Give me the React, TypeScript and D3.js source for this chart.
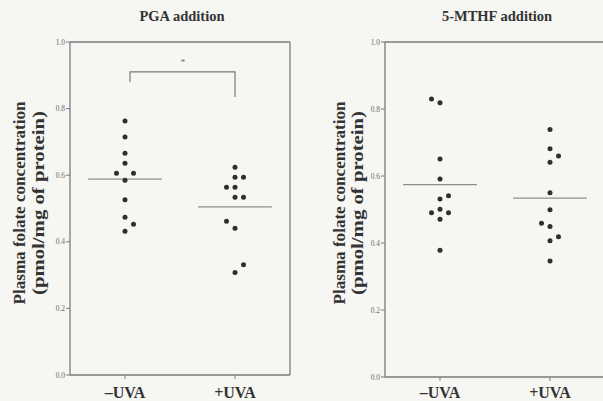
import React from 'react';
import * as d3 from 'd3';

// values (pmol/mg of protein)
const groups = ['–UVA', '+UVA'];
const pgaMinusUva = [0.763, 0.715, 0.666, 0.636, 0.606, 0.606, 0.585, 0.526, 0.474, 0.453, 0.432];
const pgaPlusUva = [0.624, 0.594, 0.594, 0.564, 0.564, 0.534, 0.534, 0.462, 0.441, 0.331, 0.308];
const mthfMinusUva = [0.83, 0.819, 0.651, 0.591, 0.541, 0.531, 0.501, 0.49, 0.49, 0.471, 0.378];
const mthfPlusUva = [0.739, 0.681, 0.66, 0.641, 0.55, 0.499, 0.459, 0.449, 0.419, 0.407, 0.346];
const pgaMeans = [0.588, 0.505];
const mthfMeans = [0.574, 0.534];
const yTicks = [0, 0.2, 0.4, 0.6, 0.8, 1.0];
const titles = ['PGA addition', '5-MTHF addition'];
const yTitle = ['Plasma folate concentration', '(pmol/mg of protein)'];
// significance bracket for PGA panel: bar level, left leg end, right leg end
const pgaBracket = [0.91, 0.88, 0.835];

const W = 603;
const H = 401;
const FONT = '"Liberation Serif", "Times New Roman", serif';
const AXIS = '#7a7a7a';
const INK = '#333';

const panels = [
  { title: titles[0], series: [pgaMinusUva, pgaPlusUva], means: pgaMeans, bracket: pgaBracket, x0: 70, x1: 290, y0: 375, y1: 42, titleOff: [45, 26], rightEdge: true },
  { title: titles[1], series: [mthfMinusUva, mthfPlusUva], means: mthfMeans, bracket: null, x0: 385, x1: 605, y0: 377, y1: 42, titleOff: [40, 22], rightEdge: false },
];

// simple beeswarm: place from low to high, dodge sideways on overlap
function swarm(values, y, dx, minDist) {
  const order = d3.range(values.length).sort((a, b) => values[a] - values[b]);
  const placed = [];
  const out = new Array(values.length);
  const hits = (ox, py) => placed.some(p => Math.hypot(p.ox - ox, p.py - py) < minDist);
  order.forEach(i => {
    const py = y(values[i]);
    let ox = 0;
    if (hits(0, py)) {
      const right = placed.filter(p => p.ox > 0).length;
      const left = placed.filter(p => p.ox < 0).length;
      const sides = left < right ? [-1, 1] : [1, -1];
      let found = false;
      for (let k = 1; k < 4 && !found; k++) {
        for (const s of sides) {
          if (!hits(s * k * dx, py)) { ox = s * k * dx; found = true; break; }
        }
      }
    }
    placed.push({ ox, py });
    out[i] = ox;
  });
  return out;
}

function Panel({ cfg }) {
  const x = d3.scalePoint().domain(groups).range([cfg.x0, cfg.x1]).padding(0.5);
  const y = d3.scaleLinear().domain([0, 1]).range([cfg.y0, cfg.y1]);
  const half = x.step() * 0.335;
  const cx = (cfg.x0 + cfg.x1) / 2;
  const cy = 203;
  const fmt = d3.format('.1f');

  return (
    <g>
      <text x={cx + 2} y={21} textAnchor="middle" fontFamily={FONT} fontWeight="bold" fontSize={14.5} fill={INK}>
        {cfg.title}
      </text>

      {/* frame */}
      <line x1={cfg.x0} x2={cfg.x0} y1={cfg.y0} y2={cfg.y1} stroke={AXIS} strokeWidth={1.3} />
      <line x1={cfg.x0} x2={cfg.x1} y1={cfg.y0} y2={cfg.y0} stroke={AXIS} strokeWidth={1.3} />
      <line x1={cfg.x0} x2={cfg.x1} y1={cfg.y1} y2={cfg.y1} stroke={AXIS} strokeWidth={1.3} />
      {cfg.rightEdge && <line x1={cfg.x1} x2={cfg.x1} y1={cfg.y0} y2={cfg.y1} stroke={AXIS} strokeWidth={1.3} />}

      {yTicks.map(t => (
        <g key={t}>
          <line x1={cfg.x0 - 4} x2={cfg.x0} y1={y(t)} y2={y(t)} stroke={AXIS} strokeWidth={1} />
          <text x={cfg.x0 - 5} y={y(t) + 2.5} textAnchor="end" fontFamily={FONT} fontSize={7.5} fill="#6a6a6a">
            {fmt(t)}
          </text>
        </g>
      ))}

      {groups.map(g => (
        <g key={g}>
          <line x1={x(g)} x2={x(g)} y1={cfg.y0} y2={cfg.y0 + 4} stroke={AXIS} strokeWidth={1} />
          <text x={x(g)} y={398} textAnchor="middle" fontFamily={FONT} fontWeight="bold" fontSize={16} fill={INK}>
            {g}
          </text>
        </g>
      ))}

      <g transform={`translate(${cfg.x0 - cfg.titleOff[0]},${cy}) rotate(-90)`}>
        <text x={0} y={0} textAnchor="middle" fontFamily={FONT} fontWeight="bold" fontSize={16} fill={INK}
          textLength={203} lengthAdjust="spacingAndGlyphs">
          {yTitle[0]}
        </text>
      </g>
      <g transform={`translate(${cfg.x0 - cfg.titleOff[1]},${cy}) rotate(-90)`}>
        <text x={0} y={0} textAnchor="middle" fontFamily={FONT} fontWeight="bold" fontSize={16} fill={INK}
          textLength={184} lengthAdjust="spacingAndGlyphs">
          {yTitle[1]}
        </text>
      </g>

      {cfg.means.map((m, i) => (
        <line key={i} x1={x(groups[i]) - half} x2={x(groups[i]) + half} y1={y(m)} y2={y(m)}
          stroke="#8e8e8e" strokeWidth={1.3} />
      ))}

      {cfg.series.map((vals, i) => {
        const offs = swarm(vals, y, 8.5, 8);
        return vals.map((v, j) => (
          <circle key={`${i}-${j}`} cx={x(groups[i]) + offs[j]} cy={y(v)} r={2.5} fill="#2e2e2e" />
        ));
      })}

      {cfg.bracket && (
        <g>
          <path
            d={`M${x(groups[0]) + 5},${y(cfg.bracket[1])}V${y(cfg.bracket[0])}H${x(groups[1])}V${y(cfg.bracket[2])}`}
            fill="none" stroke={AXIS} strokeWidth={1.2} />
          <text x={(x(groups[0]) + x(groups[1])) / 2 + 3} y={y(cfg.bracket[0]) - 7} textAnchor="middle"
            fontFamily={FONT} fontSize={9} fill="#666">*</text>
        </g>
      )}
    </g>
  );
}

export default function App() {
  return (
    <svg width={W} height={H} style={{ position: 'absolute', left: 0, top: 0 }}>
      <rect width={W} height={H} fill="#f6f6f3" />
      {panels.map((p, i) => <Panel key={i} cfg={p} />)}
    </svg>
  );
}
